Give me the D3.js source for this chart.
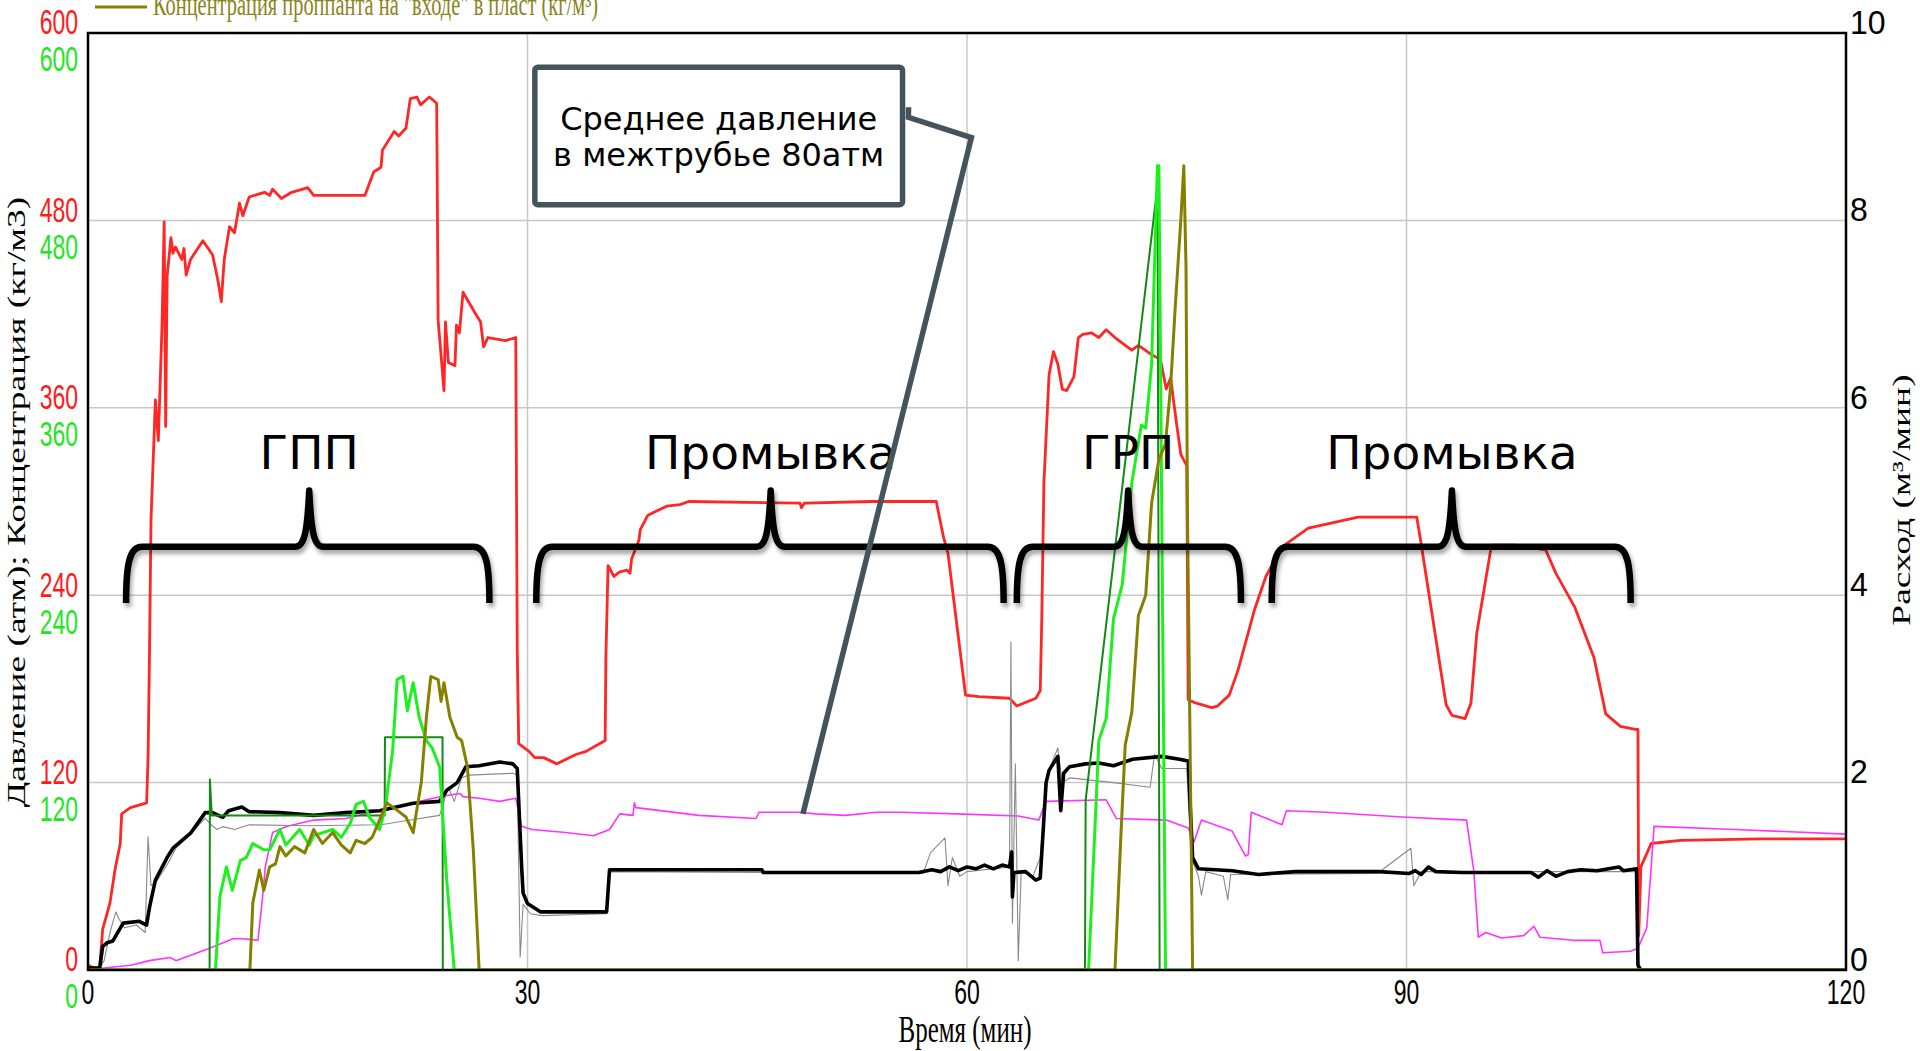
<!DOCTYPE html>
<html>
<head>
<meta charset="utf-8">
<script src="https://cdn.jsdelivr.net/npm/d3@7"></script>
<style>
  body { margin: 0; background: #fff; }
  svg { display: block; }
</style>
</head>
<body>
<svg id="chart" width="1920" height="1051"></svg>
<script>
// --- data -------------------------------------------------------------
// pressure (atm), left axis
var pressureT = [0,0.5,0.8,1.0,1.5,1.84,2.2,2.3,2.9,4.0,4.1,4.2,4.3,4.6,4.8,5.05,5.2,5.3,5.4,5.66,5.8,5.97,6.4,6.55,6.7,7.0,7.84,8.5,8.86,9.1,9.3,9.66,10.0,10.34,10.57,11.0,12.05,12.4,12.6,13.2,13.9,15.0,15.4,18.9,19.5,20.0,20.1,20.9,21.2,21.7,22.0,22.45,22.7,23.3,23.8,23.85,23.9,24.3,24.4,24.6,25.05,25.15,25.35,25.6,26.4,26.8,27.0,27.3,28.5,29.2,29.3,29.4,30.1,30.5,31.1,32.0,33.3,34.0,35.3,35.35,35.5,35.9,36.3,36.8,37.0,37.1,37.6,37.7,38.2,38.6,39.5,40.4,41.0,48.6,48.7,48.9,53.5,57.9,58.4,58.7,59.9,60.8,62.9,63.4,64.7,65.0,65.1,65.25,65.6,65.9,66.2,66.5,66.8,67.3,67.6,67.9,68.5,69.0,69.5,70.1,70.8,71.25,71.7,72.6,73.2,73.6,73.9,74.3,74.6,75.0,75.1,75.6,76.7,77.1,77.9,78.5,79.2,79.6,80.4,81.5,83.3,86.7,90.7,91.0,92.7,93.1,94.0,94.4,94.8,95.8,97.4,99.5,100.2,101.5,102.8,103.6,104.6,105.7,105.8,105.85,106.0,106.7,108.7,114.2,120];
var pressureV = [3,1,2,26,43,64,81,100,104,107,136,205,288,365,339,412,479,348,444,469,459,463,455,462,445,455,467,458,442,428,455,476,472,491,483,495,498,496,500,494,498,501,496,496,511,514,525,537,534,539,558,559,554,559,555,487,416,371,415,389,387,413,408,434,421,415,399,405,403,405,205,145,140,136,136,132,138,140,147,200,259,252,255,256,254,263,275,282,291,293,297,298,300,299,296,299,300,300,277,267,176,175,174,169,174,179,223,312,381,396,388,372,371,380,405,407,408,405,410,405,400,397,400,394,391,372,379,350,330,323,173,171,168,169,176,192,216,230,252,271,283,290,290,273,170,163,161,171,216,272,272,269,254,232,200,164,156,154,154,22,66,81,83,84,84];

// rate (m3/min), right axis - thick black
var rateT = [0,0.8,1.0,1.3,1.7,2.4,3.5,4.0,4.2,4.6,5.4,5.8,7.0,8.0,8.5,9.2,9.6,10.5,11.0,13.1,15.4,17.6,19.9,22.2,24.0,24.5,25.2,25.8,26.7,28.1,29.0,29.3,29.6,29.7,30.0,30.9,35.4,35.6,46.0,46.1,56.7,57.6,58.2,58.8,59.4,60.0,60.6,61.2,61.8,62.4,62.9,63.05,63.1,63.2,64.0,64.7,65.0,65.4,65.6,66.2,66.4,66.6,67.0,68.1,69.0,70.0,71.3,73.3,74.5,75.1,75.4,75.8,78.1,79.9,82.4,88.1,90.2,90.6,91.0,91.5,92.0,93.8,98.5,99.0,99.6,100.2,101.0,101.9,103.0,104.5,104.8,105.7,105.8,106.0,120];
var rateV = [0.02,0.02,0.25,0.29,0.31,0.5,0.52,0.48,0.67,0.96,1.2,1.3,1.46,1.68,1.68,1.63,1.7,1.74,1.69,1.68,1.65,1.68,1.7,1.78,1.8,1.92,2.0,2.17,2.18,2.22,2.2,2.15,1.1,0.82,0.71,0.62,0.62,1.07,1.07,1.04,1.04,1.07,1.05,1.1,1.06,1.1,1.08,1.12,1.08,1.12,1.1,1.26,0.78,1.04,1.05,0.96,0.98,2.0,2.13,2.28,1.7,2.1,2.17,2.2,2.21,2.18,2.25,2.28,2.25,2.23,1.2,1.08,1.06,1.02,1.05,1.05,1.03,1.06,1.02,1.1,1.05,1.04,1.04,0.99,1.06,1.0,1.05,1.07,1.06,1.1,1.06,1.08,0.05,0,0];

// second rate trace, right axis - thin grey
var rate2T = [0,0.8,1.1,1.5,1.9,2.1,2.5,3.3,3.9,4.1,4.3,4.7,5.5,6.0,7.0,8.0,8.4,8.8,9.2,10.0,11.0,15.0,20.0,22.0,24.0,24.6,25.0,25.5,26.0,29.0,29.3,29.5,29.7,30.2,31.0,35.4,35.6,57.0,57.5,58.5,58.7,59.0,59.5,60.0,62.9,63.0,63.1,63.3,63.5,63.7,64.5,65.0,65.5,66.2,66.5,67.0,70.0,72.5,72.8,73.3,75.0,75.3,75.8,76.0,76.3,77.5,77.8,78.0,88.0,90.3,90.5,91.0,105.7,105.8,120];
var rate2V = [0.02,0.02,0.1,0.4,0.62,0.55,0.45,0.48,0.4,1.42,0.9,0.95,1.15,1.3,1.45,1.62,1.55,1.5,1.53,1.5,1.55,1.54,1.55,1.6,1.65,1.95,1.8,2.05,2.08,2.1,2.08,0.14,0.7,0.6,0.58,0.6,1.05,1.03,1.25,1.41,0.9,1.2,1.0,1.05,1.1,3.5,0.5,2.2,0.1,1.05,1.0,1.2,2.1,2.37,2.0,2.05,2.0,1.95,2.3,2.15,2.15,1.2,1.0,0.8,1.05,1.0,0.75,1.02,1.03,1.3,0.9,1.05,1.05,0,0];

// annulus pressure (atm), left axis - magenta
var annulusT = [0,0.8,2.9,4.2,5.6,6.0,8.3,9.9,10.6,11.6,11.9,12.1,12.6,13.6,15.4,17.6,19.9,22.2,24.0,25.4,25.6,26.7,28.1,29.2,29.6,30.3,32.6,34.5,35.6,36.3,37.2,37.3,37.4,41.7,45.6,45.8,48.5,49.7,51.7,53.8,55.4,59.3,63.5,64.9,65.4,69.5,70.2,73.6,75.1,75.5,76.0,78.1,79.0,79.2,79.4,81.5,81.8,84.5,89.7,94.1,94.6,94.9,95.4,96.5,98.0,98.7,99.1,101.4,103.2,103.4,105.3,105.8,106.4,106.9,112.4,120];
var annulusV = [0,1,3,6,8,6,14,20,20,19,45,66,88,92,96,97,102,107,111,113,111,110,108,110,92,90,88,86,90,100,99,107,104,99,97,101,101,100,99,101,101,100,98.6,96,108,109,97,96,91,82,96,89,73,74,101,93,102,101,98,96,63,21,24,20.5,22,28,21,19,19,11,12,14,27,92,90,87];

// proppant concentration (kg/m3), left axis - bright green
var concT = [0,8.7,9.0,9.45,9.85,10.4,10.8,11.25,12.0,12.4,13.1,13.5,14.45,15.1,15.4,16.7,17.3,17.9,18.3,18.8,19.2,19.9,20.3,20.8,21.1,21.5,21.8,22.2,22.6,23.1,23.5,24.0,24.5,25.0,68.3,69.0,69.5,70.0,70.6,71.25,71.9,72.2,72.6,73.0,73.1,73.55,120];
var concV = [0,0,47,66,51,70,72,81,77,77,90,80,90,80,86,90,85,94,106,108,98,90,104,141,186,188,166,184,162,147,142,130,56,0,0,147,161,225,247,312,349,347,388,515,515,0,0];

// proppant concentration at the formation inlet (kg/m3) - olive
var concInT = [0,11.05,11.25,11.7,12.0,12.4,12.8,13.1,13.5,14.1,14.8,15.4,16.0,16.7,17.3,17.9,18.3,18.9,19.4,19.9,20.4,21.0,21.7,22.2,22.4,22.75,23.1,23.4,23.9,24.1,24.3,24.7,25.2,25.5,25.9,26.3,26.7,70.1,70.5,70.8,71.25,71.7,72.2,72.6,73.1,73.55,73.9,74.25,74.6,74.8,74.95,75.05,75.4,120];
var concInV = [0,0,43,64,51,66,68,79,73,79,75,90,81,88,80,75,83,81,85,96,107,103,98,88,100,120,162,188,186,172,184,162,149,147,130,77,0,0,85,144,165,227,240,299,327,337,374,430,481,515,450,292,0,0];

// planned concentration (kg/m3) - dark green
var planT = [0,8.3,8.32,8.45,20.25,20.27,24.2,24.22,68.05,68.1,73.0,73.15,120];
var planV = [0,0,122,99,99,149,149,0,0,109,502,0,0];

// axes
var timeTicks = [0, 30, 60, 90, 120];
var leftTicks = [0, 120, 240, 360, 480, 600];
var rightTicks = [0, 2, 4, 6, 8, 10];

// stage annotations: [start, end, centre] in minutes
var stageNames = ["ГПП", "Промывка", "ГРП", "Промывка"];
var stageSpans = [[2.6, 27.4, 15.1], [30.6, 62.5, 46.6], [63.4, 78.7, 71.0], [80.8, 105.3, 93.1]];

// callout: box corners and leader points, [minutes, atm]
var noteLines = ["Среднее давление", "в межтрубье 80атм"];
var noteBox = [[30.5, 578], [55.6, 490]];
var noteLeader = [[56.0, 546], [60.3, 533], [48.8, 100]];

// --- drawing -----------------------------------------------------------
var svg = d3.select("#chart");
var padL = 88, padR = 1846, padT = 33, padB = 970;

var x = d3.scaleLinear().domain([0, 120]).range([padL, padR]);
var yL = d3.scaleLinear().domain([0, 600]).range([padB, padT]);
var yR = d3.scaleLinear().domain([0, 10]).range([padB, padT]);

var defs = svg.append("defs");
defs.append("clipPath").attr("id", "plot").append("rect")
    .attr("x", padL).attr("y", padT).attr("width", padR - padL).attr("height", padB - padT);
var sh = defs.append("filter").attr("id", "shadow")
    .attr("x", "-5%").attr("y", "-20%").attr("width", "110%").attr("height", "150%");
sh.append("feDropShadow").attr("dx", 2).attr("dy", 4).attr("stdDeviation", 2)
    .attr("flood-color", "#000").attr("flood-opacity", 0.35);

// grid
svg.append("g").selectAll("line").data(leftTicks.slice(1, -1)).enter().append("line")
    .attr("x1", padL).attr("x2", padR)
    .attr("y1", function (d) { return yL(d); })
    .attr("y2", function (d) { return yL(d); })
    .style("stroke", "#c8c8c8").style("stroke-width", 1.5);
svg.append("g").selectAll("line").data(timeTicks.slice(1, -1)).enter().append("line")
    .attr("y1", padT).attr("y2", padB)
    .attr("x1", function (d) { return x(d); })
    .attr("x2", function (d) { return x(d); })
    .style("stroke", "#c8c8c8").style("stroke-width", 1.5);

// series
function zip(ts, vs) {
    return ts.map(function (t, i) { return [t, vs[i]]; });
}
var series = [
    { t: pressureT, v: pressureV, y: yL, color: "#ff2626", width: 2.8 },
    { t: annulusT, v: annulusV, y: yL, color: "#ff33ff", width: 1.6 },
    { t: rate2T, v: rate2V, y: yR, color: "#8a8a8a", width: 1.1 },
    { t: rateT, v: rateV, y: yR, color: "#000000", width: 3.6 },
    { t: planT, v: planV, y: yL, color: "#138a13", width: 2 },
    { t: concT, v: concV, y: yL, color: "#1ef01e", width: 3 },
    { t: concInT, v: concInV, y: yL, color: "#858000", width: 3 }
];
var plot = svg.append("g").attr("clip-path", "url(#plot)");
series.forEach(function (s) {
    var line = d3.line()
        .x(function (d) { return x(d[0]); })
        .y(function (d) { return s.y(d[1]); });
    plot.append("path").datum(zip(s.t, s.v))
        .attr("d", line)
        .style("fill", "none")
        .style("stroke", s.color)
        .style("stroke-width", s.width)
        .style("stroke-linejoin", "round");
});

// frame
svg.append("rect").attr("x", padL).attr("y", padT)
    .attr("width", padR - padL).attr("height", padB - padT)
    .style("fill", "none").style("stroke", "#000").style("stroke-width", 2.5);

// stretched chart text (the original chart is squeezed horizontally)
function label(g, px, py, str, o) {
    var k = o.k || 1.5;
    var tr = "translate(" + px + "," + py + ")" +
        (o.rot ? " rotate(-90) scale(" + k + ",1)" : " scale(1," + k + ")");
    return g.append("text").attr("transform", tr)
        .attr("text-anchor", o.anchor || "middle")
        .attr("dominant-baseline", o.base || "central")
        .style("font-family", o.font || "'Liberation Sans', Arial, sans-serif")
        .style("font-size", (o.size || 23) + "px")
        .style("fill", o.color || "#000")
        .text(str);
}

var axes = svg.append("g");
leftTicks.forEach(function (v) {
    label(axes, 78, yL(v) - 11, v, { anchor: "end", color: "#ff1a1a" });
    label(axes, 78, yL(v) + 26, v, { anchor: "end", color: "#22e622" });
});
rightTicks.forEach(function (v) {
    label(axes, 1850, yR(v) - 11, v, { anchor: "start", size: 32, k: 1.05 });
});
timeTicks.forEach(function (v) {
    label(axes, x(v), 992, v, {});
});

var serif = "'Liberation Serif', 'Times New Roman', serif";
label(axes, 965, 1030, "Время (мин)", { font: serif, size: 25 });
label(axes, 17, 502, "Давление (атм); Концентрация (кг/м3)", { font: serif, size: 25, rot: true });
label(axes, 1902, 500, "Расход (м³/мин)", { font: serif, size: 25, rot: true });

// legend (cut at the top edge)
svg.append("line").attr("x1", 95).attr("x2", 147).attr("y1", 7).attr("y2", 7)
    .style("stroke", "#858000").style("stroke-width", 3);
label(svg, 153, 15, "Концентрация проппанта на \"входе\" в пласт (кг/м³)",
    { font: serif, size: 20.4, anchor: "start", base: "auto", color: "#8a8420" });

// stage braces
var yTip = yL(235), yBar = yL(271), yPeak = yL(307);
var notes = svg.append("g");
stageSpans.forEach(function (s, i) {
    var x0 = x(s[0]), x1 = x(s[1]), xc = x(s[2]);
    var d = "M" + x0 + "," + yTip +
        " C" + x0 + "," + (yTip - 38) + " " + (x0 + 3) + "," + yBar + " " + (x0 + 16) + "," + yBar +
        " L" + (xc - 14) + "," + yBar +
        " C" + (xc - 5) + "," + yBar + " " + (xc - 2) + "," + (yBar - 14) + " " + xc + "," + yPeak +
        " C" + (xc + 2) + "," + (yBar - 14) + " " + (xc + 5) + "," + yBar + " " + (xc + 14) + "," + yBar +
        " L" + (x1 - 16) + "," + yBar +
        " C" + (x1 - 3) + "," + yBar + " " + x1 + "," + (yTip - 38) + " " + x1 + "," + yTip;
    notes.append("path").attr("d", d)
        .style("fill", "none").style("stroke", "#000").style("stroke-width", 6.5)
        .style("stroke-linecap", "butt").style("stroke-linejoin", "round")
        .attr("filter", "url(#shadow)");
    notes.append("text").attr("x", xc).attr("y", yL(321))
        .attr("text-anchor", "middle")
        .style("font-family", "'DejaVu Sans', Verdana, sans-serif")
        .style("font-size", "47px").style("fill", "#000")
        .text(stageNames[i]);
});

// callout
var noteColor = "#44535c";
notes.append("path")
    .attr("d", d3.line()([[x(noteBox[1][0]) + 6, yL(noteLeader[0][1]) - 10]].concat(
        noteLeader.map(function (p) { return [x(p[0]), yL(p[1])]; }))))
    .style("fill", "none").style("stroke", noteColor).style("stroke-width", 5.5);
notes.append("rect")
    .attr("x", x(noteBox[0][0])).attr("y", yL(noteBox[0][1]))
    .attr("width", x(noteBox[1][0]) - x(noteBox[0][0]))
    .attr("height", yL(noteBox[1][1]) - yL(noteBox[0][1]))
    .attr("rx", 3)
    .style("fill", "#fff").style("stroke", noteColor).style("stroke-width", 5.5);
noteLines.forEach(function (s, i) {
    notes.append("text")
        .attr("x", (x(noteBox[0][0]) + x(noteBox[1][0])) / 2)
        .attr("y", 130 + i * 36)
        .attr("text-anchor", "middle")
        .style("font-family", "'DejaVu Sans', Verdana, sans-serif")
        .style("font-size", "32px").style("fill", "#000")
        .text(s);
});
</script>
</body>
</html>
